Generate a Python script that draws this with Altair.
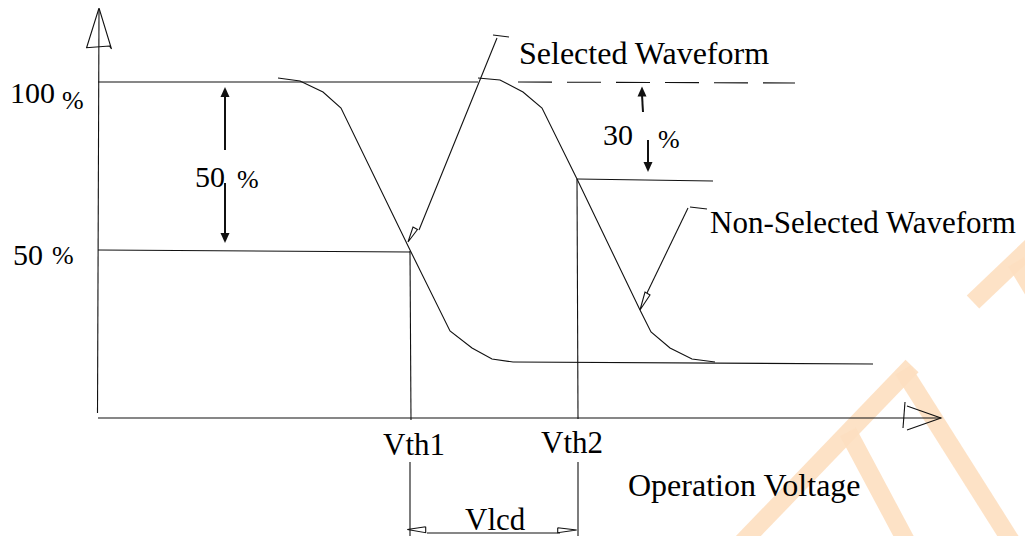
import altair as alt
import pandas as pd

FONT = "Liberation Serif"
INK = "#111111"
WM = "#fddfc0"

# ---- diagram geometry (drawing units ~ pixels) ----
y_axis = [(99, 10), (97.5, 413)]
y_arrow = [(86.5, 48), (99, 8), (111.5, 49), (109.5, 46), (86, 47.7)]
x_axis = [(98, 418), (941, 418)]
x_arrow = [(907, 406), (941, 418), (907, 430)]
x_arrow_base = [(905, 402), (903, 428)]
level_100 = [(98, 82), (478, 82)]
level_100_dashed = [(518, 82), (795, 83)]
level_50 = [(98, 250), (410, 252)]
level_70 = [(577, 179), (713, 181)]
bottom_level = [(513, 362), (873, 364)]
selected_curve = [(278, 78), (300, 81), (323, 92), (341, 108), (410, 250),
                  (450, 331), (472, 348), (492, 359), (513, 362)]
nonselected_curve = [(478, 78), (500, 80), (523, 92), (542, 108), (577, 179),
                     (640, 310), (651, 332), (670, 348), (692, 359), (715, 362)]
vth1_line = [(410, 251), (411, 420)]
vth2_line = [(577, 179), (578, 419)]
vlcd_left = [(410, 462), (410, 550)]
vlcd_right = [(578, 462), (578, 550)]
vlcd_dim = [(427, 533), (560, 533)]
vlcd_head_left = [(425.7, 526.7), (407.3, 529.5), (425.7, 532.7), (425.7, 526.7)]
vlcd_head_right = [(557.7, 527.7), (576.7, 530), (557.7, 532.7), (557.7, 527.7)]
sel_callout = [(419, 230), (497, 38)]
sel_tick = [(493, 35), (509, 37)]
sel_head = [(408, 242), (413, 227), (417.5, 229.5), (408, 242)]
non_callout = [(688, 208), (647, 293)]
non_tick = [(690, 207), (707, 209)]
non_head = [(640, 310), (645, 292), (650, 295), (640, 310)]
arrow50_up = [(225, 150), (225, 96)]
arrow50_down = [(225, 183), (225, 234)]
arrow30_up = [(643, 112), (642, 95)]
arrow30_down = [(648, 140), (648, 162)]

solid_paths = [y_axis, y_arrow, x_axis, x_arrow, x_arrow_base, level_100,
               level_50, level_70, bottom_level, selected_curve,
               nonselected_curve, vth1_line, vth2_line, vlcd_left, vlcd_right,
               vlcd_dim, vlcd_head_left, vlcd_head_right, sel_callout,
               sel_tick, sel_head, non_callout, non_tick, non_head]
bold_paths = [arrow50_up, arrow50_down, arrow30_up, arrow30_down]

heads_up = [(225, 87), (642, 86.5)]
heads_down = [(225, 243), (648, 172)]

# watermark bands
watermark = [
    [(733, 552), (912, 366)],
    [(903, 370), (1018, 552)],
    [(848, 432), (912, 552)],
    [(973, 302), (1036, 242)],
    [(1016, 262), (1040, 302)],
]

# ---- text labels ----
label_text = ["100", "%", "50", "%", "50", "%", "30", "%",
              "Selected Waveform", "Non-Selected Waveform",
              "Vth1", "Vth2", "Operation Voltage", "Vlcd"]
label_x = [10, 62, 13, 52, 195, 237, 603, 658, 519, 710, 383, 541, 628, 465]
label_y = [103, 109, 265, 264, 187, 188, 145, 148, 64, 233, 455, 453, 496, 530]
label_fs = [30, 26, 30, 26, 30, 26, 30, 26, 32, 31, 31, 31, 32, 31]


def to_df(paths):
    rows = []
    for gid, pts in enumerate(paths):
        for k, (x, y) in enumerate(pts):
            rows.append({"gid": gid, "ord": k, "x": x, "y": y})
    return pd.DataFrame(rows)


X = alt.X("x:Q", scale=alt.Scale(domain=[8, 1025]), axis=None)
Y = alt.Y("y:Q", scale=alt.Scale(domain=[8, 536], reverse=True), axis=None)

wm_layer = alt.Chart(to_df(watermark)).mark_line(
    color=WM, strokeWidth=18, opacity=0.9, strokeCap="butt"
).encode(x=X, y=Y, detail="gid:N", order="ord:Q")

solid_layer = alt.Chart(to_df(solid_paths)).mark_line(
    color=INK, strokeWidth=1.1
).encode(x=X, y=Y, detail="gid:N", order="ord:Q")

bold_layer = alt.Chart(to_df(bold_paths)).mark_line(
    color=INK, strokeWidth=2
).encode(x=X, y=Y, detail="gid:N", order="ord:Q")

dash_layer = alt.Chart(to_df([level_100_dashed])).mark_line(
    color=INK, strokeWidth=1.1, strokeDash=[34, 15]
).encode(x=X, y=Y, detail="gid:N", order="ord:Q")

up_df = pd.DataFrame({"x": [p[0] for p in heads_up], "y": [p[1] for p in heads_up]})
down_df = pd.DataFrame({"x": [p[0] for p in heads_down], "y": [p[1] for p in heads_down]})

up_layer = alt.Chart(up_df).mark_point(
    shape="M0,0L-0.45,1L0.45,1Z", size=400, filled=True, color=INK, opacity=1
).encode(x=X, y=Y)
down_layer = alt.Chart(down_df).mark_point(
    shape="M0,0L-0.45,-1L0.45,-1Z", size=400, filled=True, color=INK, opacity=1
).encode(x=X, y=Y)

text_df = pd.DataFrame({"t": label_text, "x": label_x, "y": label_y, "fs": label_fs})
text_layer = alt.Chart(text_df).mark_text(
    align="left", baseline="alphabetic", font=FONT, color="black"
).encode(x=X, y=Y, text="t:N", size=alt.Size("fs:Q", scale=None, legend=None))

chart = alt.layer(
    wm_layer, solid_layer, bold_layer, dash_layer, up_layer, down_layer, text_layer
).properties(
    width=1017, height=528, padding=0,
    autosize=alt.AutoSizeParams(type="none"),
    background="white",
).configure_view(stroke=None)

chart.save("out.html", embed_options={"renderer": "svg", "actions": False})
